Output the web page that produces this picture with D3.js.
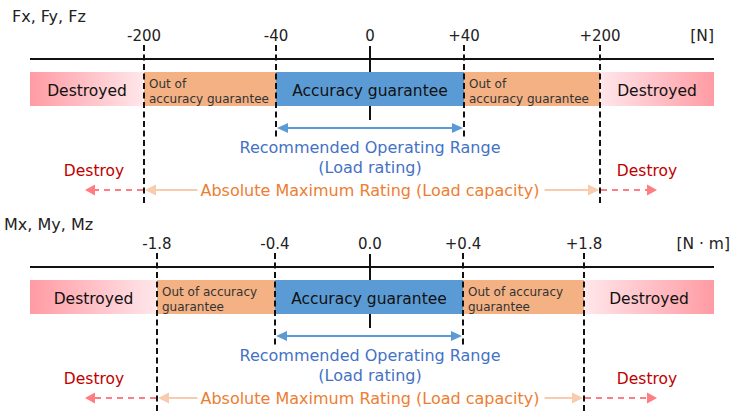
<!DOCTYPE html>
<html>
<head>
<meta charset="utf-8">
<script src="https://cdn.jsdelivr.net/npm/d3@7"></script>
<style>
  html, body { margin: 0; padding: 0; background: #fff; }
  svg { display: block; font-family: "DejaVu Sans", Verdana, sans-serif; }
</style>
</head>
<body>
<svg id="chart" width="733" height="411"></svg>
<script>
// ---------------- DATA ----------------
const panelTitles = ["Fx, Fy, Fz", "Mx, My, Mz"];
const unitLabels = ["[N]", "[N · m]"];

const forceTicks = [-200, -40, 0, 40, 200];
const forceTickLabels = ["-200", "-40", "0", "+40", "+200"];
const forceExtent = [-300, 300];

const momentTicks = [-1.8, -0.4, 0, 0.4, 1.8];
const momentTickLabels = ["-1.8", "-0.4", "0.0", "+0.4", "+1.8"];
const momentExtent = [-2.5, 2.5];

const zoneNames = ["Destroyed", "Out of accuracy guarantee", "Accuracy guarantee", "Out of accuracy guarantee", "Destroyed"];
const zoneKinds = ["destroyL", "out", "acc", "out", "destroyR"];
const forceOutLines = ["Out of", "accuracy guarantee"];
const momentOutLines = ["Out of accuracy", "guarantee"];

const recommendedLabel = ["Recommended Operating Range", "(Load rating)"];
const absoluteLabel = "Absolute Maximum Rating (Load capacity)";
const destroyLabel = "Destroy";

// ---------------- LAYOUT ----------------
const svg = d3.select("#chart");
const colors = {
  acc: "#5B9BD5", out: "#F4B183", pinkDark: "#FF9BA3", pinkLight: "#FFE6EA",
  blueLine: "#5B9BD5", blueText: "#4472C4", orangeText: "#ED7D31",
  orangeLine: "#F8CBAD", red: "#C00000", redLine: "#FF7C80"
};

const defs = svg.append("defs");
const gL = defs.append("linearGradient").attr("id", "gradL").attr("x1", 0).attr("x2", 1).attr("y1", 0).attr("y2", 0);
gL.append("stop").attr("offset", "0%").attr("stop-color", colors.pinkDark);
gL.append("stop").attr("offset", "100%").attr("stop-color", colors.pinkLight);
const gR = defs.append("linearGradient").attr("id", "gradR").attr("x1", 0).attr("x2", 1).attr("y1", 0).attr("y2", 0);
gR.append("stop").attr("offset", "0%").attr("stop-color", colors.pinkLight);
gR.append("stop").attr("offset", "100%").attr("stop-color", colors.pinkDark);

const panels = [
  { title: panelTitles[0], unit: unitLabels[0], ticks: forceTicks, labels: forceTickLabels, extent: forceExtent,
    outLines: forceOutLines, yOff: 0, titleX: 12, unitX: 714,
    range: [30, 144, 276, 370, 464, 600, 714] },
  { title: panelTitles[1], unit: unitLabels[1], ticks: momentTicks, labels: momentTickLabels, extent: momentExtent,
    outLines: momentOutLines, yOff: 208, titleX: 4, unitX: 730,
    range: [30, 157, 275, 370, 463, 584, 714] }
];

function arrowHead(g, tipX, y, dir, len, hw, color) {
  g.append("path")
    .attr("d", `M${tipX},${y} L${tipX - dir * len},${y - hw} L${tipX - dir * len},${y + hw} Z`)
    .attr("fill", color);
}

panels.forEach(p => {
  const g = svg.append("g").attr("transform", `translate(0,${p.yOff})`);
  const domain = [p.extent[0], ...p.ticks, p.extent[1]];
  const x = d3.scaleLinear().domain(domain).range(p.range);

  const axisY = 59, barTop = 72, barBot = 106;

  // title
  g.append("text").attr("x", p.titleX).attr("y", 22).attr("font-size", 16).attr("fill", "#222").text(p.title);

  // tick labels
  g.selectAll(".tl").data(p.ticks).enter().append("text")
    .attr("x", d => x(d)).attr("y", 41).attr("text-anchor", "middle")
    .attr("font-size", 15).attr("fill", "#222")
    .text((d, i) => p.labels[i]);
  g.append("text").attr("x", p.unitX).attr("y", 41).attr("text-anchor", "end")
    .attr("font-size", 15.5).attr("fill", "#222").text(p.unit);

  // zero tick (behind bars)
  g.append("line").attr("x1", x(0)).attr("x2", x(0)).attr("y1", axisY - 13).attr("y2", axisY + 61)
    .attr("stroke", "#111").attr("stroke-width", 2);

  // axis line
  g.append("line").attr("x1", x(p.extent[0])).attr("x2", x(p.extent[1])).attr("y1", axisY).attr("y2", axisY)
    .attr("stroke", "#111").attr("stroke-width", 2);

  // zones
  const bounds = [p.extent[0], p.ticks[0], p.ticks[1], p.ticks[3], p.ticks[4], p.extent[1]];
  const zones = zoneNames.map((n, i) => ({ name: n, kind: zoneKinds[i], x0: bounds[i], x1: bounds[i + 1] }));
  g.selectAll(".zone").data(zones).enter().append("rect")
    .attr("x", d => x(d.x0) + (d.kind === "destroyR" ? 1 : 0))
    .attr("width", d => x(d.x1) - x(d.x0) - (d.kind === "destroyL" || d.kind === "destroyR" ? 1 : 0))
    .attr("y", barTop).attr("height", barBot - barTop)
    .attr("fill", d => d.kind === "destroyL" ? "url(#gradL)" : d.kind === "destroyR" ? "url(#gradR)" : colors[d.kind]);

  // zone labels
  zones.forEach(z => {
    if (z.kind === "out") {
      const t = g.append("text").attr("font-size", 12).attr("fill", "#333");
      p.outLines.forEach((ln, j) => {
        t.append("tspan").attr("x", x(z.x0) + 5).attr("y", barTop + 16 + j * 15).text(ln);
      });
    } else {
      g.append("text").attr("x", (x(z.x0) + x(z.x1)) / 2).attr("y", barTop + 24)
        .attr("text-anchor", "middle").attr("font-size", 15.5).attr("fill", "#111").text(z.name);
    }
  });

  // dashed boundary lines
  const inner = [p.ticks[1], p.ticks[3]], outer = [p.ticks[0], p.ticks[4]];
  g.selectAll(".dO").data(outer).enter().append("line")
    .attr("x1", d => x(d)).attr("x2", d => x(d)).attr("y1", axisY - 14).attr("y2", axisY + 144)
    .attr("stroke", "#111").attr("stroke-width", 2).attr("stroke-dasharray", "6,3.5");
  g.selectAll(".dI").data(inner).enter().append("line")
    .attr("x1", d => x(d)).attr("x2", d => x(d)).attr("y1", axisY - 14).attr("y2", axisY + 78)
    .attr("stroke", "#111").attr("stroke-width", 2).attr("stroke-dasharray", "6,3.5");

  // recommended range arrow
  const ay = 128;
  g.append("line").attr("x1", x(inner[0]) + 8).attr("x2", x(inner[1]) - 8).attr("y1", ay).attr("y2", ay)
    .attr("stroke", colors.blueLine).attr("stroke-width", 2);
  arrowHead(g, x(inner[0]) + 1, ay, -1, 11, 5, colors.blueLine);
  arrowHead(g, x(inner[1]) - 1, ay, 1, 11, 5, colors.blueLine);
  g.append("text").attr("x", x(0)).attr("y", 153).attr("text-anchor", "middle")
    .attr("font-size", 16).attr("fill", colors.blueText).text(recommendedLabel[0]);
  g.append("text").attr("x", x(0)).attr("y", 173).attr("text-anchor", "middle")
    .attr("font-size", 16).attr("fill", colors.blueText).text(recommendedLabel[1]);

  // absolute maximum arrow
  const by = 190;
  const absText = g.append("text").attr("x", x(0)).attr("y", 196).attr("text-anchor", "middle")
    .attr("font-size", 16).attr("fill", colors.orangeText).text(absoluteLabel);
  const bb = absText.node().getBBox();
  g.append("line").attr("x1", x(outer[0]) + 8).attr("x2", bb.x - 3).attr("y1", by).attr("y2", by)
    .attr("stroke", colors.orangeLine).attr("stroke-width", 2);
  g.append("line").attr("x1", bb.x + bb.width + 5).attr("x2", x(outer[1]) - 8).attr("y1", by).attr("y2", by)
    .attr("stroke", colors.orangeLine).attr("stroke-width", 2);
  arrowHead(g, x(outer[0]) + 1, by, -1, 11, 5.5, colors.orangeLine);
  arrowHead(g, x(outer[1]) - 1, by, 1, 11, 5.5, colors.orangeLine);

  // destroy arrows
  const leftTip = 85, rightTip = 657;
  g.append("line").attr("x1", x(outer[0]) - 1).attr("x2", leftTip + 8).attr("y1", by).attr("y2", by)
    .attr("stroke", colors.redLine).attr("stroke-width", 2).attr("stroke-dasharray", "6,5");
  g.append("line").attr("x1", x(outer[1]) + 1).attr("x2", rightTip - 8).attr("y1", by).attr("y2", by)
    .attr("stroke", colors.redLine).attr("stroke-width", 2).attr("stroke-dasharray", "6,5");
  arrowHead(g, leftTip, by, -1, 10, 5.5, colors.redLine);
  arrowHead(g, rightTip, by, 1, 10, 5.5, colors.redLine);
  g.append("text").attr("x", 94).attr("y", 176).attr("text-anchor", "middle")
    .attr("font-size", 15.5).attr("fill", colors.red).text(destroyLabel);
  g.append("text").attr("x", 647).attr("y", 176).attr("text-anchor", "middle")
    .attr("font-size", 15.5).attr("fill", colors.red).text(destroyLabel);
});
</script>
</body>
</html>
